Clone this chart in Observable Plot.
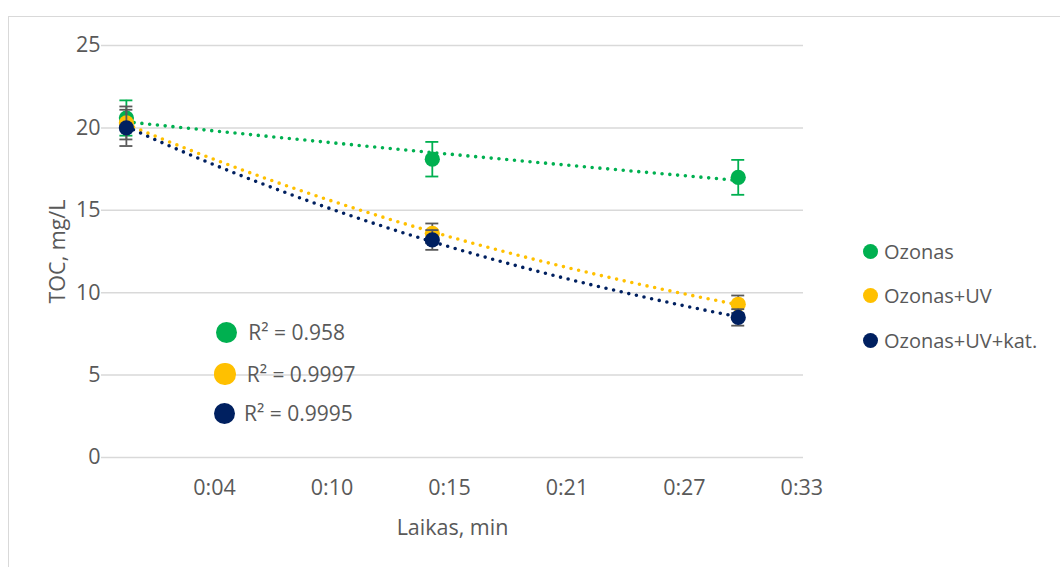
<!DOCTYPE html>
<html>
<head>
<meta charset="utf-8">
<script src="https://cdn.jsdelivr.net/npm/d3@7"></script>
<script src="https://cdn.jsdelivr.net/npm/@observablehq/plot@0.6"></script>
<style>
  html, body { margin: 0; padding: 0; background: #fff; }
  #wrap { position: relative; width: 1060px; height: 567px; overflow: hidden; font-family: "Open Sans", sans-serif; color: #595959; }
  #frame { position: absolute; left: 8px; top: 16px; width: 1100px; height: 600px; border: 1.5px solid #d9d9d9; box-sizing: border-box; }
  #chart { position: absolute; left: 0; top: 0; }
  .leg { position: absolute; display: flex; align-items: center; white-space: nowrap; }
  .leg .sw { border-radius: 50%; flex: none; }
</style>
</head>
<body>
<div id="wrap">
  <div id="frame"></div>
  <div id="chart"></div>
  <div id="legend"></div>
  <div id="r2"></div>
</div>
<script>
// ---- data ----
const times = [0, 15, 30];
const seriesNames = ["Ozonas", "Ozonas+UV", "Ozonas+UV+kat."];
const ozonas = [20.6, 18.1, 17.0];
const ozonasUV = [20.3, 13.6, 9.3];
const ozonasUVkat = [20.0, 13.2, 8.5];
const errOzonas = [1.07, 1.05, 1.06];
const errOzonasUV = [1.0, 0.6, 0.53];
const errOzonasUVkat = [1.1, 0.6, 0.5];
const r2Labels = ["R² = 0.958", "R² = 0.9997", "R² = 0.9995"];
const xTickValues = [4.32, 10.08, 15.84, 21.6, 27.36, 33.12];
const xTickLabels = ["0:04", "0:10", "0:15", "0:21", "0:27", "0:33"];
const yTicks = [0, 5, 10, 15, 20, 25];
const colors = ["#00B050", "#FFC000", "#002060"];
const errColors = ["#00B050", "#595959", "#595959"];

const values = [ozonas, ozonasUV, ozonasUVkat];
const errors = [errOzonas, errOzonasUV, errOzonasUVkat];

// build rows
const rows = [];
seriesNames.forEach((s, si) => {
  times.forEach((t, i) => {
    rows.push({series: s, si, t, v: values[si][i], lo: values[si][i] - errors[si][i], hi: values[si][i] + errors[si][i]});
  });
});

// exponential trendlines (least squares on ln y)
function expFit(xs, ys) {
  const ly = ys.map(Math.log);
  const n = xs.length;
  const mx = d3.mean(xs), my = d3.mean(ly);
  let sxy = 0, sxx = 0;
  for (let i = 0; i < n; i++) { sxy += (xs[i] - mx) * (ly[i] - my); sxx += (xs[i] - mx) ** 2; }
  const b = sxy / sxx, a = my - b * mx;
  return x => Math.exp(a + b * x);
}
const trendRows = [];
seriesNames.forEach((s, si) => {
  const f = expFit(times, values[si]);
  const t0 = d3.min(times), t1 = d3.max(times);
  for (let k = 0; k <= 60; k++) {
    const t = t0 + (t1 - t0) * k / 60;
    trendRows.push({series: s, si, t, v: f(t)});
  }
});

const marks = [
  Plot.gridY(yTicks, {stroke: "#d9d9d9", strokeOpacity: 1, strokeWidth: 1.5}),
];
seriesNames.forEach((s, si) => {
  marks.push(Plot.line(trendRows.filter(d => d.si === si), {
    x: "t", y: "v", stroke: colors[si], strokeWidth: 3.6,
    strokeDasharray: "0 7.8", strokeLinecap: "round", curve: "linear"
  }));
});
seriesNames.forEach((s, si) => {
  const d = rows.filter(r => r.si === si);
  marks.push(Plot.ruleX(d, {x: "t", y1: "lo", y2: "hi", stroke: errColors[si], strokeWidth: 1.8}));
  marks.push(Plot.ruleY(d, {y: "hi", x1: "t", x2: "t", insetLeft: -6.5, insetRight: -6.5, stroke: errColors[si], strokeWidth: 1.8}));
  marks.push(Plot.ruleY(d, {y: "lo", x1: "t", x2: "t", insetLeft: -6.5, insetRight: -6.5, stroke: errColors[si], strokeWidth: 1.8}));
  marks.push(Plot.dot(d, {x: "t", y: "v", r: 7.6, fill: colors[si], stroke: "none"}));
});

const chart = Plot.plot({
  width: 1060,
  height: 567,
  marginLeft: 101,
  marginRight: 257,
  marginTop: 45,
  marginBottom: 110,
  style: {fontFamily: "'Open Sans', sans-serif", fontSize: "21.5px", color: "#595959", background: "transparent", overflow: "visible"},
  x: {
    domain: [-1.22, 33.2],
    ticks: xTickValues,
    tickFormat: d => xTickLabels[xTickValues.indexOf(d)],
    tickSize: 0, tickPadding: 22,
    label: "Laikas, min", labelAnchor: "center", labelArrow: "none", labelOffset: 77
  },
  y: {
    domain: [0, 25],
    ticks: yTicks,
    tickSize: 0, tickPadding: 1,
    label: "TOC, mg/L", labelAnchor: "center", labelArrow: "none", labelOffset: 52
  },
  marks
});
document.getElementById("chart").appendChild(chart);

// right legend
const legendPos = [[870.7, 251], [870.7, 295.7], [870.7, 340]];
const legend = document.getElementById("legend");
seriesNames.forEach((s, si) => {
  const el = document.createElement("div");
  el.className = "leg";
  const r = 7.5;
  el.style.left = (legendPos[si][0] - r) + "px";
  el.style.top = (legendPos[si][1] - 14) + "px";
  el.style.height = "28px";
  el.style.fontSize = "20px";
  el.innerHTML = `<span class="sw" style="width:${2*r}px;height:${2*r}px;background:${colors[si]}"></span><span style="margin-left:${884 - legendPos[si][0] - r}px">${s}</span>`;
  legend.appendChild(el);
});

// R² labels
const r2Pos = [[226.7, 332.3, 248.3], [225, 374, 246.7], [224.3, 413.3, 244]];
const r2 = document.getElementById("r2");
r2Labels.forEach((lab, si) => {
  const el = document.createElement("div");
  el.className = "leg";
  const r = 10.6;
  const [cx, cy, tx] = r2Pos[si];
  el.style.left = (cx - r) + "px";
  el.style.top = (cy - 15) + "px";
  el.style.height = "30px";
  el.style.fontSize = "21px";
  el.innerHTML = `<span class="sw" style="width:${2*r}px;height:${2*r}px;background:${colors[si]}"></span><span style="margin-left:${tx - cx - r}px">${lab}</span>`;
  r2.appendChild(el);
});
</script>
</body>
</html>
